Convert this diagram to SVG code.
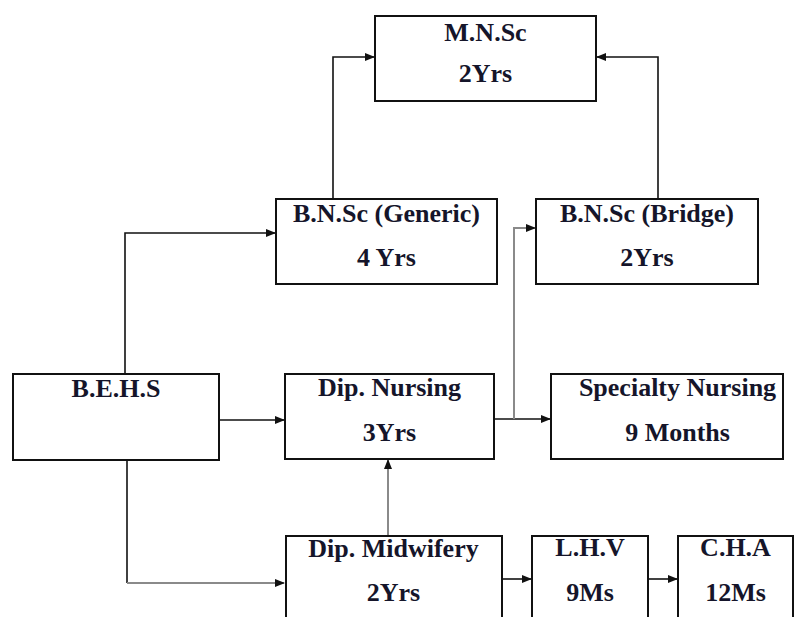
<svg xmlns="http://www.w3.org/2000/svg" width="795" height="617" viewBox="0 0 795 617">
<style>
.box{fill:#fff;stroke:#111;stroke-width:2}
.t{font-family:"Liberation Serif","Times New Roman",serif;font-weight:bold;font-size:26px;fill:#15152a;text-anchor:middle}
.c{fill:none;stroke:#111;stroke-width:1.6}
.g{fill:none;stroke:#8a8a8a;stroke-width:2}
</style>
<defs>
<marker id="ah" markerWidth="10" markerHeight="8" refX="9" refY="4" orient="auto" markerUnits="userSpaceOnUse">
<path d="M0,0 L10,4 L0,8 Z" fill="#111"/>
</marker>
</defs>
<rect width="795" height="617" fill="#fff"/>
<g id="connectors">
<path class="c" d="M333,199 V57 H374" marker-end="url(#ah)"/>
<path class="c" d="M658,199 V57 H597" marker-end="url(#ah)"/>
<path class="c" d="M125,374 V233 H275" marker-end="url(#ah)"/>
<path class="c" d="M219,420 H284" marker-end="url(#ah)"/>
<path class="c" d="M494,419 H550" marker-end="url(#ah)"/>
<path class="g" d="M514,419 V228 H535" marker-end="url(#ah)"/>
<path class="g" d="M388,536 V460" marker-end="url(#ah)"/>
<path class="c" d="M127,460 V583"/>
<path class="g" d="M127,583 H284" marker-end="url(#ah)"/>
<path class="c" d="M502,579 H531" marker-end="url(#ah)"/>
<path class="c" d="M648,579 H677" marker-end="url(#ah)"/>
</g>
<g id="mnsc">
<rect class="box" x="375" y="16" width="221" height="85"/>
<text class="t" x="485.5" y="41">M.N.Sc</text>
<text class="t" x="485.5" y="82">2Yrs</text>
</g>
<g id="bnsc-generic">
<rect class="box" x="276" y="199" width="221" height="85"/>
<text class="t" x="386.5" y="222">B.N.Sc (Generic)</text>
<text class="t" x="386.5" y="266">4 Yrs</text>
</g>
<g id="bnsc-bridge">
<rect class="box" x="536" y="199" width="222" height="85"/>
<text class="t" x="647" y="222">B.N.Sc (Bridge)</text>
<text class="t" x="647" y="266">2Yrs</text>
</g>
<g id="behs">
<rect class="box" x="13" y="374" width="206" height="86"/>
<text class="t" x="116" y="397">B.E.H.S</text>
</g>
<g id="dip-nursing">
<rect class="box" x="285" y="374" width="209" height="85"/>
<text class="t" x="389.5" y="396">Dip. Nursing</text>
<text class="t" x="389.5" y="441">3Yrs</text>
</g>
<g id="specialty">
<rect class="box" x="551" y="374" width="232" height="85"/>
<text class="t" x="677.5" y="396">Specialty Nursing</text>
<text class="t" x="677.5" y="441">9 Months</text>
</g>
<g id="dip-midwifery">
<rect class="box" x="286" y="536" width="216" height="100"/>
<text class="t" x="393.5" y="557">Dip. Midwifery</text>
<text class="t" x="393.5" y="601">2Yrs</text>
</g>
<g id="lhv">
<rect class="box" x="532" y="536" width="116" height="100"/>
<text class="t" x="590" y="556">L.H.V</text>
<text class="t" x="590" y="601">9Ms</text>
</g>
<g id="cha">
<rect class="box" x="678" y="536" width="115" height="100"/>
<text class="t" x="735.5" y="556">C.H.A</text>
<text class="t" x="735.5" y="601">12Ms</text>
</g>
</svg>
